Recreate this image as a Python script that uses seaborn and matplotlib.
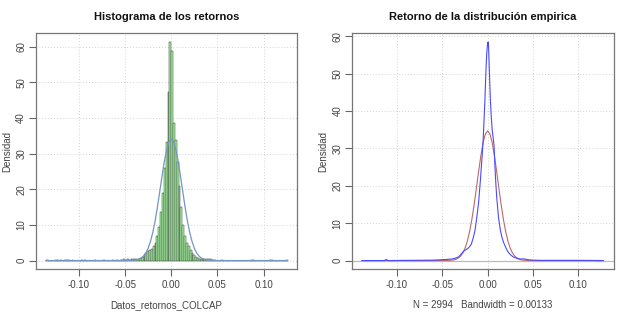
import numpy as np
import pandas as pd
import seaborn as sns
import matplotlib
matplotlib.use("Agg")
import matplotlib.pyplot as plt

# histogram of returns (density per bin), bins of width 0.002 starting at -0.136
hist_start = -0.136
hist_width = 0.002
hist_density = [
    0.17, 0, 0, 0, 0, 0.17, 0.17, 0, 0.17, 0,
    0.17, 0.17, 0.17, 0, 0.17, 0, 0, 0, 0, 0.17,
    0, 0.17, 0, 0, 0, 0, 0.17, 0, 0, 0,
    0, 0.17, 0, 0, 0, 0, 0.17, 0, 0.17, 0,
    0.17, 0.17, 0.33, 0.17, 0.33, 0.17, 0.33, 0.33, 0.33, 0.5,
    0.5, 0.67, 1.0, 1.5, 2.2, 2.8, 3.0, 3.3, 4.0, 5.0,
    7.0, 9.5, 13.5, 19.0, 26.0, 33.2, 47.2, 61.3, 58.8, 38.5,
    33.8, 27.8, 21.0, 15.0, 10.0, 7.0, 5.0, 4.0, 3.0, 2.0,
    1.5, 1.0, 0.67, 0.5, 0.5, 0.33, 0.33, 0.33, 0.5, 0.33,
    0.17, 0.17, 0, 0, 0, 0.17, 0, 0, 0, 0,
    0, 0, 0, 0, 0, 0, 0, 0, 0, 0,
    0, 0.17, 0.17, 0, 0, 0, 0, 0, 0, 0,
    0, 0.17, 0.17, 0, 0, 0, 0, 0, 0, 0,
    0.17,
]

# fitted normal curve on the histogram
norm_x = [-0.136, -0.05, -0.045, -0.0425, -0.04, -0.0375, -0.035, -0.0325, -0.03, -0.0275,
          -0.025, -0.0225, -0.02, -0.0175, -0.015, -0.0125, -0.01, -0.0075, -0.005, -0.0025,
          0.0, 0.0025, 0.005, 0.0075, 0.01, 0.0125, 0.015, 0.0175, 0.02, 0.0225,
          0.025, 0.0275, 0.03, 0.0325, 0.035, 0.0375, 0.04, 0.0425, 0.045, 0.05, 0.126]
norm_y = [0, 0.004, 0.02, 0.05, 0.10, 0.20, 0.39, 0.72, 1.27, 2.15,
          3.48, 5.37, 7.9, 11.1, 15.0, 19.3, 23.7, 27.8, 31.1, 33.3,
          34.1, 33.3, 31.1, 27.8, 23.7, 19.3, 15.0, 11.1, 7.9, 5.37,
          3.48, 2.15, 1.27, 0.72, 0.39, 0.20, 0.10, 0.05, 0.02, 0.004, 0]

# empirical density (blue)
emp_x = [-0.139, -0.114, -0.112, -0.110, -0.060, -0.045, -0.040, -0.036, -0.032, -0.030,
         -0.028, -0.026, -0.024, -0.022, -0.020, -0.018, -0.016, -0.014, -0.012, -0.010,
         -0.008, -0.006, -0.005, -0.004, -0.003, -0.002, -0.001, 0.000, 0.0005, 0.001,
         0.002, 0.003, 0.004, 0.005, 0.006, 0.007, 0.008, 0.009, 0.010, 0.012,
         0.014, 0.016, 0.018, 0.020, 0.022, 0.025, 0.028, 0.032, 0.036, 0.040,
         0.045, 0.050, 0.060, 0.100, 0.128]
emp_y = [0, 0, 0.3, 0, 0.1, 0.3, 0.4, 0.6, 1.0, 1.5,
         2.1, 2.6, 2.9, 3.2, 3.7, 4.4, 6.0, 8.0, 11.5, 15.5,
         21.5, 28.3, 32.0, 37.5, 43.0, 50.0, 55.5, 58.2, 58.5, 57.5,
         50.0, 43.0, 38.5, 35.0, 33.0, 31.0, 25.5, 20.8, 17.0, 11.5,
         8.2, 6.0, 4.6, 3.5, 2.5, 1.6, 1.0, 0.6, 0.4, 0.45,
         0.2, 0.1, 0.05, 0.05, 0]

# normal density (red)
nrm_x = [-0.139, -0.05, -0.045, -0.04, -0.0375, -0.035, -0.0325, -0.03, -0.0275, -0.025,
         -0.0225, -0.02, -0.0175, -0.015, -0.0125, -0.01, -0.0075, -0.005, -0.0025, 0.0,
         0.0025, 0.005, 0.0075, 0.01, 0.0125, 0.015, 0.0175, 0.02, 0.0225, 0.025,
         0.0275, 0.03, 0.0325, 0.035, 0.0375, 0.04, 0.045, 0.05, 0.128]
nrm_y = [0, 0.003, 0.016, 0.08, 0.17, 0.34, 0.64, 1.15, 1.99, 3.27,
         5.12, 7.65, 10.9, 14.8, 19.2, 23.8, 28.0, 31.6, 33.9, 34.7,
         33.9, 31.6, 28.0, 23.8, 19.2, 14.8, 10.9, 7.65, 5.12, 3.27,
         1.99, 1.15, 0.64, 0.34, 0.17, 0.08, 0.016, 0.003, 0]

x_ticks = [-0.10, -0.05, 0.00, 0.05, 0.10]
y_ticks = [0, 10, 20, 30, 40, 50, 60]

sns.set_style("white")
plt.rcParams['font.family'] = ['Liberation Sans', 'DejaVu Sans']

n_bins = len(hist_density)
hist_end = hist_start + hist_width * n_bins
centers = hist_start + hist_width * (np.arange(n_bins) + 0.5)
hist_df = pd.DataFrame({'ret': centers, 'dens': hist_density})

fig = plt.figure(figsize=(6.26, 3.23), dpi=100)
ax1 = fig.add_axes([0.0575, 0.1663, 0.4174, 0.7307])
ax2 = fig.add_axes([0.5628, 0.1663, 0.4176, 0.7307])


def style_axis(ax, xlim, ylim, title, xlabel):
    ax.set_xlim(*xlim)
    ax.set_ylim(*ylim)
    ax.set_xticks(x_ticks)
    ax.set_xticklabels([f"{t:.2f}" for t in x_ticks])
    ax.set_yticks(y_ticks)
    ax.set_yticklabels([str(t) for t in y_ticks], rotation=90, va='center')
    ax.grid(True, color='#d4d4d4', linestyle=(0, (1, 2)), linewidth=0.7)
    ax.set_axisbelow(True)
    ax.tick_params(direction='out', length=5, width=0.8, color='#666666',
                   labelsize=7, labelcolor='#444444', bottom=True, left=True)
    ax.tick_params(axis='x', pad=3)
    ax.tick_params(axis='y', pad=2)
    for s in ax.spines.values():
        s.set_color('#777777')
        s.set_linewidth(0.9)
    ax.set_title(title, fontsize=8, fontweight='bold', pad=9.5, color='#111111')
    ax.set_xlabel(xlabel, fontsize=7, color='#444444', labelpad=7)
    ax.set_ylabel('Densidad', fontsize=7, color='#444444', labelpad=3)


# left: histogram + normal fit
sns.histplot(data=hist_df, x='ret', weights='dens', bins=n_bins,
             binrange=(hist_start, hist_end), stat='count',
             color='#a6f5a0', edgecolor='#3a3a3a', linewidth=0.35, alpha=1, ax=ax1)
sns.lineplot(x=norm_x, y=norm_y, color='#7596c4', linewidth=0.9, ax=ax1, zorder=4)
style_axis(ax1, (-0.1465, 0.1365), (-2.45, 63.8),
           'Histograma de los retornos', 'Datos_retornos_COLCAP')

# right: densities
ax2.axhline(0, color='#bbbbbb', linewidth=0.9)
sns.lineplot(x=nrm_x, y=nrm_y, color='#b86a6a', linewidth=0.8, ax=ax2, zorder=3)
sns.lineplot(x=emp_x, y=emp_y, color='#4a4aff', linewidth=0.8, ax=ax2, zorder=4)
style_axis(ax2, (-0.1494, 0.1392), (-2.34, 60.84),
           'Retorno de la distribución empirica', 'N = 2994   Bandwidth = 0.00133')

fig.savefig('out.png', dpi=100)
